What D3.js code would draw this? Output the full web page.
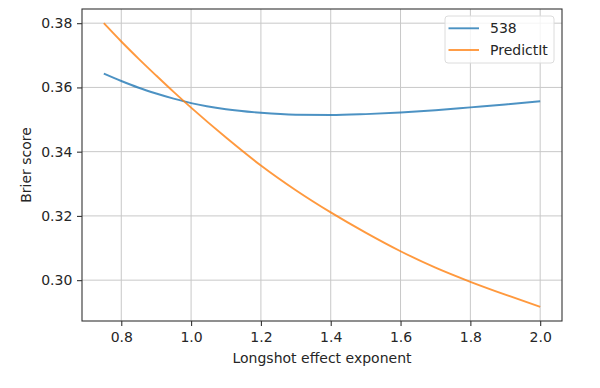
<!DOCTYPE html>
<html>
<head>
<meta charset="utf-8">
<script src="https://cdn.jsdelivr.net/npm/d3@7/dist/d3.min.js"></script>
<style>
  body { margin: 0; background: #fff; }
  text { font-family: "DejaVu Sans", sans-serif; fill: #262626; }
</style>
</head>
<body>
<div id="chart"></div>
<script>
// exponent values (x axis)
var exponents = [0.75, 0.8, 0.85, 0.9, 0.95, 1.0, 1.1, 1.2, 1.3, 1.4, 1.5, 1.6, 1.7, 1.8, 1.9, 2.0];
// brier scores
var score538 = [0.3643, 0.3620, 0.3599, 0.3581, 0.3565, 0.3551, 0.3532, 0.3521, 0.3515, 0.3514, 0.3517, 0.3522, 0.3529, 0.3538, 0.3547, 0.3557];
var scorePredictIt = [0.3800, 0.3743, 0.3689, 0.3637, 0.3586, 0.3537, 0.3444, 0.3357, 0.3280, 0.3211, 0.3148, 0.3090, 0.3039, 0.2995, 0.2955, 0.2917];
var seriesNames = ['538', 'PredictIt'];
var seriesColors = ['#1f77b4', '#ff7f0e'];
var xTicks = [0.8, 1.0, 1.2, 1.4, 1.6, 1.8, 2.0];
var yTicks = [0.30, 0.32, 0.34, 0.36, 0.38];

var width = 600, height = 388;
var margin = {top: 9, right: 38, bottom: 67, left: 82};
var innerW = width - margin.left - margin.right,
    innerH = height - margin.top - margin.bottom;
var fontSize = '14px';

var svg = d3.select('#chart').append('svg')
   .attr('width', width)
   .attr('height', height);

var g = svg.append('g')
   .attr('transform', 'translate(' + margin.left + ',' + margin.top + ')');

// matplotlib style 5% margins
var xMin = d3.min(exponents), xMax = d3.max(exponents);
var allY = score538.concat(scorePredictIt);
var yMin = d3.min(allY), yMax = d3.max(allY);
var xPad = (xMax - xMin) * 0.05, yPad = (yMax - yMin) * 0.05;

var x = d3.scaleLinear().domain([xMin - xPad, xMax + xPad]).range([0, innerW]);
var y = d3.scaleLinear().domain([yMin - yPad, yMax + yPad]).range([innerH, 0]);

//grid
g.append('g').selectAll('line').data(xTicks).enter().append('line')
   .attr('x1', function (d) { return x(d) }).attr('x2', function (d) { return x(d) })
   .attr('y1', 0).attr('y2', innerH)
   .attr('stroke', '#c8c8c8').attr('stroke-width', 1);
g.append('g').selectAll('line').data(yTicks).enter().append('line')
   .attr('y1', function (d) { return y(d) }).attr('y2', function (d) { return y(d) })
   .attr('x1', 0).attr('x2', innerW)
   .attr('stroke', '#c8c8c8').attr('stroke-width', 1);

//lines
var series = [score538, scorePredictIt];
var line = d3.line()
   .x(function (d, i) { return x(exponents[i]) })
   .y(function (d) { return y(d) })
   .curve(d3.curveMonotoneX);

g.selectAll('path.series').data(series).enter().append('path')
   .attr('class', 'series')
   .attr('d', line)
   .attr('fill', 'none')
   .attr('stroke', function (d, i) { return seriesColors[i] })
   .attr('stroke-width', 1.9)
   .attr('opacity', 0.8);

//axes
var xAxis = g.append('g')
   .attr('transform', 'translate(0,' + innerH + ')')
   .call(d3.axisBottom(x).tickValues(xTicks).tickSize(5).tickPadding(6.5).tickFormat(d3.format('.1f')));
var yAxis = g.append('g')
   .call(d3.axisLeft(y).tickValues(yTicks).tickSize(5).tickPadding(4.7).tickFormat(d3.format('.2f')));
[xAxis, yAxis].forEach(function (a) {
   a.select('.domain').remove();
   a.selectAll('line').attr('stroke', '#333').attr('stroke-width', 1.1);
   a.selectAll('text').attr('font-size', fontSize).style('font-family', '"DejaVu Sans", sans-serif').attr('fill', '#262626');
});

//frame
g.append('rect')
   .attr('width', innerW).attr('height', innerH)
   .attr('fill', 'none').attr('stroke', '#333').attr('stroke-width', 1.1);

//labels
svg.append('text')
   .attr('x', margin.left + innerW / 2).attr('y', 363)
   .attr('text-anchor', 'middle').attr('font-size', fontSize)
   .text('Longshot effect exponent');
svg.append('text')
   .attr('transform', 'translate(31,' + (margin.top + innerH / 2) + ') rotate(-90)')
   .attr('text-anchor', 'middle').attr('font-size', fontSize)
   .text('Brier score');

//legend
var legend = svg.append('g').attr('transform', 'translate(445,16)');
legend.append('rect')
   .attr('width', 109).attr('height', 47).attr('rx', 3)
   .attr('fill', '#fff').attr('fill-opacity', 0.8)
   .attr('stroke', '#dcdcdc').attr('stroke-width', 1);
var entry = legend.selectAll('g.entry').data(seriesNames).enter().append('g')
   .attr('class', 'entry')
   .attr('transform', function (d, i) { return 'translate(0,' + (12.3 + 21.7 * i) + ')' });
entry.append('line')
   .attr('x1', 3.5).attr('x2', 34)
   .attr('stroke', function (d, i) { return seriesColors[i] })
   .attr('stroke-width', 1.9).attr('opacity', 0.8);
entry.append('text')
   .attr('x', 45).attr('dy', '0.35em')
   .attr('font-size', fontSize)
   .text(function (d) { return d });
</script>
</body>
</html>
